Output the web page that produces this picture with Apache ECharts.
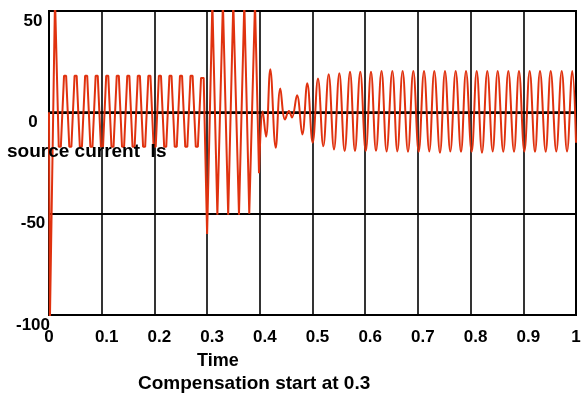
<!DOCTYPE html>
<html>
<head>
<meta charset="utf-8">
<title>source current Is</title>
<script src="https://cdn.jsdelivr.net/npm/echarts@6/dist/echarts.min.js"></script>
<style>
  html, body { margin: 0; padding: 0; background: #fff; }
  #chart { width: 584px; height: 398px; }
</style>
</head>
<body>
<div id="chart"></div>
<script>
// Source current Is (A) against time (s); compensation switched in at t = 0.3 s.

// Start-up inrush
var startupT = [0, 0.0017, 0.0114];
var startupI = [0, -103, 56];

// Uncompensated load current, flat-topped, 0.02 s .. 0.3 s
var loadT = [
  0.0185, 0.0225, 0.0285, 0.0325, 0.0385, 0.0425, 0.0485, 0.0525, 0.0585, 0.0625,
  0.0685, 0.0725, 0.0785, 0.0825, 0.0885, 0.0925, 0.0985, 0.1025, 0.1085, 0.1125,
  0.1185, 0.1225, 0.1285, 0.1325, 0.1385, 0.1425, 0.1485, 0.1525, 0.1585, 0.1625,
  0.1685, 0.1725, 0.1785, 0.1825, 0.1885, 0.1925, 0.1985, 0.2025, 0.2085, 0.2125,
  0.2185, 0.2225, 0.2285, 0.2325, 0.2385, 0.2425, 0.2485, 0.2525, 0.2585, 0.2625,
  0.2685, 0.2725, 0.2785, 0.2825, 0.2885, 0.2935
];
var loadI = [
  -17, -17, 18, 18, -17, -17, 18, 18, -17, -17,
  18, 18, -17, -17, 18, 18, -17, -17, 18, 18,
  -17, -17, 18, 18, -17, -17, 18, 18, -17, -17,
  18, 18, -17, -17, 18, 18, -17, -17, 18, 18,
  -17, -17, 18, 18, -17, -17, 18, 18, -17, -17,
  18, 18, -17, -17, 17, 17
];

// Switching transient, 0.3 s .. 0.4 s
var onsetT = [0.300, 0.310, 0.3195, 0.330, 0.340, 0.3497, 0.3605, 0.3706, 0.380, 0.3909, 0.3985];
var onsetI = [-60, 54, -50.5, 54, -50.5, 54, -50.5, 54, -50, 54, -30];

// Settling and compensated steady state, 0.4 s .. 1 s
var settleT = [
  0.3985, 0.4055, 0.4118, 0.4199, 0.4302, 0.4389, 0.4478, 0.4554, 0.4611, 0.4706,
  0.4807, 0.4901, 0.5003, 0.5104, 0.5205, 0.5307, 0.5408, 0.5509, 0.5610, 0.5712,
  0.5806, 0.5907, 0.6010, 0.6110, 0.6205, 0.6310, 0.6406, 0.6515, 0.6610, 0.6710,
  0.6812, 0.6913, 0.7015, 0.7116, 0.7216, 0.7311, 0.7419, 0.7514, 0.7615, 0.7717,
  0.7818, 0.7913, 0.8020, 0.8116, 0.8216, 0.8317, 0.8419, 0.8514, 0.8620, 0.8716,
  0.8824, 0.8918, 0.9020, 0.9121, 0.9222, 0.9317, 0.9425, 0.9520, 0.9626, 0.9729,
  0.9830, 0.9930, 1.0
];
var settleI = [
  -30, 0.5, -12, 21.3, -17.5, 11.7, -3.5, 0.6, -2.6, 8.4,
  -10.9, 14.4, -15, 16.7, -16.7, 18.8, -18.3, 19.3, -19.1, 20,
  -19.1, 20, -19.1, 20, -19, 20.4, -19.3, 20.4, -19.3, 20.4,
  -19.5, 20.4, -19.5, 20.4, -19.3, 20.4, -20, 20.4, -19.3, 20.4,
  -19.5, 20.4, -19.5, 20.4, -20, 20.4, -19.3, 20.4, -19.5, 20.4,
  -19.5, 20.4, -19.3, 20.4, -19.5, 20.4, -19.5, 20.4, -19.3, 20.4,
  -19.3, 20.4, -15
];

// Axis ticks
var xTicks = [0, 0.1, 0.2, 0.3, 0.4, 0.5, 0.6, 0.7, 0.8, 0.9, 1];
var yTicks = [-100, -50, 0, 50];

function pairs(t, v) {
  return t.map(function (x, k) { return [x, v[k]]; });
}

var FONT = '"Liberation Sans", Arial, Helvetica, sans-serif';
var WAVE = '#e0320f';

var chart = echarts.init(document.getElementById('chart'), null, { renderer: 'canvas' });

chart.setOption({
  animation: false,
  backgroundColor: '#ffffff',
  grid: {
    left: 49, right: 8, top: 11, bottom: 83,
    show: true, borderColor: '#000', borderWidth: 2, backgroundColor: '#fff'
  },
  xAxis: {
    type: 'value',
    min: xTicks[0], max: xTicks[xTicks.length - 1], interval: 0.1,
    axisLine: { show: false }, axisTick: { show: false },
    splitLine: { show: true, lineStyle: { color: '#000', width: 1.6 } },
    axisLabel: {
      margin: 14,
      color: '#000', fontFamily: FONT, fontWeight: 'bold', fontSize: 17,
      formatter: function (v) {
        if (v === 0 || v === 1) return '{i|' + v + '}';
        return '{d|' + v.toFixed(1) + '}';
      },
      rich: {
        i: { color: '#000', fontFamily: FONT, fontWeight: 'bold', fontSize: 17 },
        d: { color: '#000', fontFamily: FONT, fontWeight: 'bold', fontSize: 17, padding: [0, 0, 0, 10] }
      }
    }
  },
  yAxis: {
    type: 'value',
    min: yTicks[0], max: yTicks[yTicks.length - 1], interval: 50,
    axisLine: { show: false }, axisTick: { show: false },
    splitLine: { show: true, lineStyle: { color: '#000', width: 2 } },
    axisLabel: {
      margin: 16, align: 'center', verticalAlign: 'top',
      lineHeight: 20,
      color: '#000', fontFamily: FONT, fontWeight: 'bold', fontSize: 17
    }
  },
  series: [
    {
      type: 'line',
      data: pairs(startupT.concat(loadT, onsetT), startupI.concat(loadI, onsetI)),
      showSymbol: false, smooth: false, clip: true,
      lineStyle: { color: WAVE, width: 2 },
      markLine: {
        silent: true, symbol: 'none', label: { show: false },
        lineStyle: { color: '#000', width: 2.6, type: 'solid' },
        data: [{ yAxis: 0 }],
        z: 1
      },
      z: 3
    },
    {
      type: 'line',
      data: pairs(settleT, settleI),
      showSymbol: false, smooth: 0.4, clip: true,
      lineStyle: { color: WAVE, width: 2 },
      z: 3
    }
  ],
  graphic: [
    {
      type: 'text', left: 7, top: 142, z: 100,
      style: { text: 'source current  Is', fill: '#000', font: 'bold 19px ' + FONT }
    },
    {
      type: 'text', left: 197, top: 352, z: 100,
      style: { text: 'Time', fill: '#000', font: 'bold 18px ' + FONT }
    },
    {
      type: 'text', left: 138, top: 374, z: 100,
      style: { text: 'Compensation start at 0.3', fill: '#000', font: 'bold 19px ' + FONT }
    }
  ]
});
</script>
</body>
</html>
